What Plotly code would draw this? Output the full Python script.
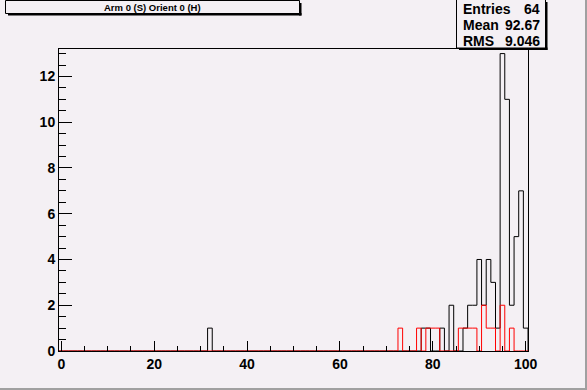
import plotly.graph_objects as go

# ---------------- data ----------------
black_bins = [32, 78, 79, 82, 84, 87, 88, 89, 90, 91, 92, 93, 94, 95, 96, 97, 98, 99, 100]
black_counts = [1, 1, 1, 1, 2, 1, 2, 2, 4, 2, 4, 3, 1, 13, 11, 2, 5, 7, 1]
red_bins = [73, 77, 79, 80, 81, 86, 87, 88, 89, 91, 92, 93, 95, 97]
red_counts = [1, 1, 1, 1, 1, 1, 1, 1, 1, 2, 1, 1, 2, 1]
x_tick_vals = [0, 20, 40, 60, 80, 100]
y_tick_vals = [0, 2, 4, 6, 8, 10, 12]
title_text = "Arm 0 (S) Orient 0 (H)"
stats_labels = ["Entries", "Mean", "RMS"]
stats_values = ["64", "92.67", "9.046"]
n_bins, x_lo, x_hi = 101, -0.5, 100.5
y_max = 13.2

# ---------------- geometry ----------------
W, H = 587, 390
L, R, T, B = 59, 528, 49, 351
BG = "rgb(244,240,244)"


def px(x):
    return (x - L) / (R - L)


def py(y):
    return (B - y) / (B - T)


def outline(bins, counts):
    full = [0] * n_bins
    for b, c in zip(bins, counts):
        full[int(round(b - (x_lo + 0.5)))] = c
    xs = [x_lo + i for i in range(n_bins + 1)] + [x_hi]
    ys = full + [full[-1], 0]
    return xs, ys


fig = go.Figure()
bx, by = outline(black_bins, black_counts)
rx, ry = outline(red_bins, red_counts)
fig.add_trace(go.Scatter(x=bx, y=by, mode="lines", line=dict(color="black", width=1, shape="hv"),
                         hoverinfo="skip", showlegend=False))
fig.add_trace(go.Scatter(x=rx, y=ry, mode="lines", line=dict(color="#ff0000", width=1, shape="hv"),
                         hoverinfo="skip", showlegend=False))

tickfont = dict(family="Liberation Sans, Arial, sans-serif", size=14, color="black", weight="bold")

fig.update_xaxes(range=[x_lo, x_hi], showgrid=False, zeroline=False,
                 showline=True, mirror=True, linecolor="black", linewidth=1,
                 ticks="inside", ticklen=10, tickwidth=1, tickcolor="black",
                 tickvals=x_tick_vals, ticktext=[str(v) for v in x_tick_vals],
                 minor=dict(dtick=5, tick0=0, ticks="inside", ticklen=5, tickcolor="black", tickwidth=1),
                 tickfont=tickfont)
fig.update_yaxes(range=[0, y_max], showgrid=False, zeroline=False,
                 showline=True, mirror=True, linecolor="black", linewidth=1,
                 ticks="inside", ticklen=13, tickwidth=1, tickcolor="black",
                 tickvals=y_tick_vals, ticktext=[str(v) for v in y_tick_vals],
                 minor=dict(dtick=0.5, tick0=0, ticks="inside", ticklen=7, tickcolor="black", tickwidth=1),
                 tickfont=tickfont)

shapes = []


def rect(x0, y0, x1, y1, fill=None, line=None, lw=1):
    shapes.append(dict(type="rect", xref="paper", yref="paper", layer="above",
                       x0=px(x0), x1=px(x1), y0=py(y1), y1=py(y0),
                       fillcolor=fill if fill else "rgba(0,0,0,0)",
                       line=dict(color=line if line else "rgba(0,0,0,0)", width=lw if line else 0)))


# canvas bevel
rect(585, 0, 587, 390, fill="rgb(160,160,160)")
rect(0, 388, 587, 390, fill="rgb(160,160,160)")

# title box with shadow
rect(8, 13, 301.5, 15.5, fill="black")
rect(299, 3, 301.5, 15.5, fill="black")
rect(5.5, 0.5, 299.5, 13.5, fill=BG, line="black", lw=1)

# stats box with shadow
rect(459, 47.5, 547.5, 50, fill="black")
rect(545, 2, 547.5, 50, fill="black")
rect(456.5, -1, 545.5, 48, fill=BG, line="black", lw=1)

annotations = [dict(text=title_text, x=px(152.5), y=py(7.3), xref="paper", yref="paper",
                    showarrow=False, xanchor="center", yanchor="middle",
                    font=dict(family="Liberation Sans, Arial, sans-serif", size=9.5, color="black", weight="bold"))]
row_y = [9, 25, 41]
for lab, val, yy in zip(stats_labels, stats_values, row_y):
    f = dict(family="Liberation Sans, Arial, sans-serif", size=14, color="black", weight="bold")
    annotations.append(dict(text=lab, x=px(461), y=py(yy), xref="paper", yref="paper", showarrow=False,
                            xanchor="left", yanchor="middle", font=f))
    annotations.append(dict(text=val, x=px(542), y=py(yy), xref="paper", yref="paper", showarrow=False,
                            xanchor="right", yanchor="middle", font=f))

fig.update_layout(width=W, height=H, margin=dict(l=L, r=W - R, t=T, b=H - B, pad=0),
                  paper_bgcolor=BG, plot_bgcolor=BG, shapes=shapes, annotations=annotations,
                  showlegend=False)

fig.write_html("out.html", config={"displayModeBar": False},
               post_script="document.body.style.margin='0';document.body.style.background='%s';" % BG)
